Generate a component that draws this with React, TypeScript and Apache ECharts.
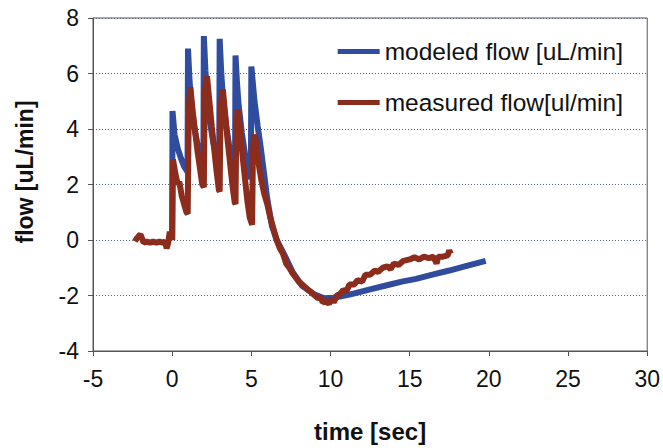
import React, { useEffect, useRef } from "react";
import * as echarts from "echarts";

const legendNames = ["modeled flow [uL/min]", "measured flow[ul/min]"];
const xTicks = { min: -5, max: 30, interval: 5 };
const yTicks = { min: -4, max: 8, interval: 2 };
const xTitle = "time [sec]";
const yTitle = "flow [uL/min]";

const modeledT = [
  0, 0.02, 0.15, 0.35, 0.55, 0.75, 0.97,
  1.0, 1.1, 1.2, 1.4, 1.6, 1.8, 1.97,
  2.0, 2.1, 2.2, 2.4, 2.6, 2.8, 2.97,
  3.0, 3.1, 3.2, 3.4, 3.6, 3.8, 3.97,
  4.0, 4.1, 4.2, 4.4, 4.6, 4.8, 4.97,
  5.0, 5.2, 5.4, 5.6, 5.8, 6.0, 6.3, 6.6, 7.1, 7.6, 8.2, 9.0, 9.6, 10.2,
  11.2, 12.5, 13.5, 14.5, 15.4, 16.5, 17.5, 18.6, 19.8,
];
const modeledV = [
  0, 4.65, 3.8, 3.3, 2.95, 2.65, 2.45,
  6.9, 5.7, 5.0, 4.05, 3.45, 2.95, 2.6,
  7.35, 6.1, 5.3, 4.2, 3.5, 3.0, 2.65,
  7.25, 6.0, 5.2, 4.15, 3.4, 2.85, 2.5,
  6.65, 5.6, 4.85, 3.85, 3.1, 2.55, 2.2,
  6.25, 5.0, 4.1, 3.3, 2.4, 1.5, 0.5, 0.0, -0.55, -1.15, -1.65, -1.97, -2.1, -2.08,
  -1.97, -1.78, -1.64, -1.5, -1.4, -1.24, -1.1, -0.93, -0.75,
];

const measuredT = [
  -2.35, -2.25, -2.1, -2.0, -1.9, -1.8, -1.6, -1.4, -1.2, -1.0, -0.8, -0.6, -0.45, -0.35, -0.25, -0.15, -0.05, 0.0,
  0.05, 0.2, 0.35, 0.45, 0.6, 0.75, 0.9, 0.98,
  1.05, 1.15, 1.3, 1.45, 1.6, 1.75, 1.9, 2.0,
  2.05, 2.2, 2.35, 2.5, 2.65, 2.8, 2.95, 3.0,
  3.05, 3.2, 3.35, 3.5, 3.65, 3.8, 3.95, 4.0,
  4.05, 4.15, 4.3, 4.45, 4.6, 4.75, 4.9, 5.05,
  5.1, 5.2, 5.35, 5.5, 5.65, 5.8, 6.0, 6.2, 6.4, 6.6, 6.8, 7.0, 7.2, 7.4, 7.6, 7.8, 8.0, 8.3, 8.6, 8.9,
  9.2, 9.4, 9.5, 9.7, 9.9, 10.1, 10.2, 10.4, 10.6, 10.8, 11.0, 11.2, 11.5, 11.7, 12.0, 12.2, 12.5, 12.8,
  13.0, 13.3, 13.6, 13.8, 14.0, 14.3, 14.6, 15.0, 15.3, 15.6, 15.9, 16.2, 16.5, 16.7, 16.8, 17.1, 17.4, 17.5, 17.6,
];
const measuredV = [
  -0.05, 0.05, 0.15, 0.2, 0.05, -0.1, -0.05, -0.1, -0.05, -0.1, -0.05, -0.1, -0.05, -0.3, -0.1, 0.3, 0.1, 0.0,
  2.9, 2.4, 2.0, 2.1, 1.6, 1.3, 1.0, 0.95,
  4.8, 5.5, 4.6, 3.9, 3.2, 2.6, 2.0, 1.9,
  5.3, 5.9, 5.0, 4.1, 3.3, 2.5, 1.8, 1.75,
  4.8, 5.42, 4.5, 3.6, 2.8, 2.0, 1.35, 1.3,
  4.2, 4.7, 3.9, 3.0, 2.2, 1.4, 0.8, 0.55,
  3.3, 3.8, 3.3, 2.6, 2.1, 1.7, 1.3, 0.8, 0.4, 0.0, -0.3, -0.5, -0.85, -1.0, -1.2, -1.35, -1.5, -1.65, -1.8, -1.95,
  -2.1, -2.05, -2.25, -2.2, -2.3, -2.1, -2.25, -2.0, -1.95, -1.8, -1.85, -1.6, -1.6, -1.45, -1.5, -1.25, -1.25, -1.1,
  -1.15, -1.0, -0.95, -1.05, -0.85, -0.9, -0.75, -0.7, -0.62, -0.7, -0.6, -0.65, -0.6, -0.85, -0.6, -0.6, -0.55, -0.38, -0.5,
];

const FONT = "'Liberation Sans', Arial, sans-serif";

export default function App() {
  const ref = useRef<HTMLDivElement>(null);
  useEffect(() => {
    if (!ref.current) return;
    const chart = echarts.init(ref.current, undefined, { renderer: "svg" });
    const modeled = modeledT.map((t, i) => [t, modeledV[i]]);
    const measured = measuredT.map((t, i) => [t, measuredV[i]]);
    chart.setOption({
      animation: false,
      backgroundColor: "#ffffff",
      textStyle: { fontFamily: FONT },
      grid: {
        left: 93,
        right: 13,
        top: 18,
        bottom: 94,
        show: true,
        borderColor: "#555555",
        borderWidth: 1,
      },
      legend: {
        orient: "vertical",
        right: 35,
        top: 34,
        itemWidth: 42,
        itemHeight: 5,
        itemGap: 26,
        icon: "rect",
        textStyle: { fontSize: 24.5, color: "#111111", fontFamily: FONT },
        data: legendNames,
      },
      graphic: [
        {
          type: "text",
          x: 25,
          y: 172,
          rotation: Math.PI / 2,
          style: {
            text: yTitle,
            fill: "#111111",
            font: `bold 23px ${FONT}`,
            textAlign: "center",
            textVerticalAlign: "middle",
          },
        },
      ],
      xAxis: {
        type: "value",
        min: xTicks.min,
        max: xTicks.max,
        interval: xTicks.interval,
        axisLine: { show: true, onZero: false, lineStyle: { color: "#555555", width: 1 } },
        axisTick: { show: true, length: 5, lineStyle: { color: "#555555" } },
        axisLabel: { fontSize: 23, color: "#111111", margin: 16, fontFamily: FONT },
        splitLine: { show: false },
        name: xTitle,
        nameLocation: "middle",
        nameGap: 68,
        nameTextStyle: { fontSize: 24, fontWeight: "bold", color: "#111111", fontFamily: FONT },
      },
      yAxis: {
        type: "value",
        min: yTicks.min,
        max: yTicks.max,
        interval: yTicks.interval,
        axisLine: { show: true, onZero: false, lineStyle: { color: "#555555", width: 1 } },
        axisTick: { show: true, length: 5, lineStyle: { color: "#555555" } },
        axisLabel: { fontSize: 23, color: "#111111", margin: 14, fontFamily: FONT },
        splitLine: { show: true, lineStyle: { color: "#5a6690", type: [1, 2], width: 1 } },
      },
      series: [
        {
          name: legendNames[0],
          type: "line",
          data: modeled,
          showSymbol: false,
          color: "#2f4c9f",
          lineStyle: { width: 6, color: "#2f4c9f" },
        },
        {
          name: legendNames[1],
          type: "line",
          data: measured,
          showSymbol: false,
          color: "#8c2c1d",
          lineStyle: { width: 6, color: "#8c2c1d" },
        },
      ],
    });
    return () => chart.dispose();
  }, []);
  return (
    <div
      ref={ref}
      style={{ position: "fixed", left: 0, top: 0, width: 663, height: 448 }}
    />
  );
}
